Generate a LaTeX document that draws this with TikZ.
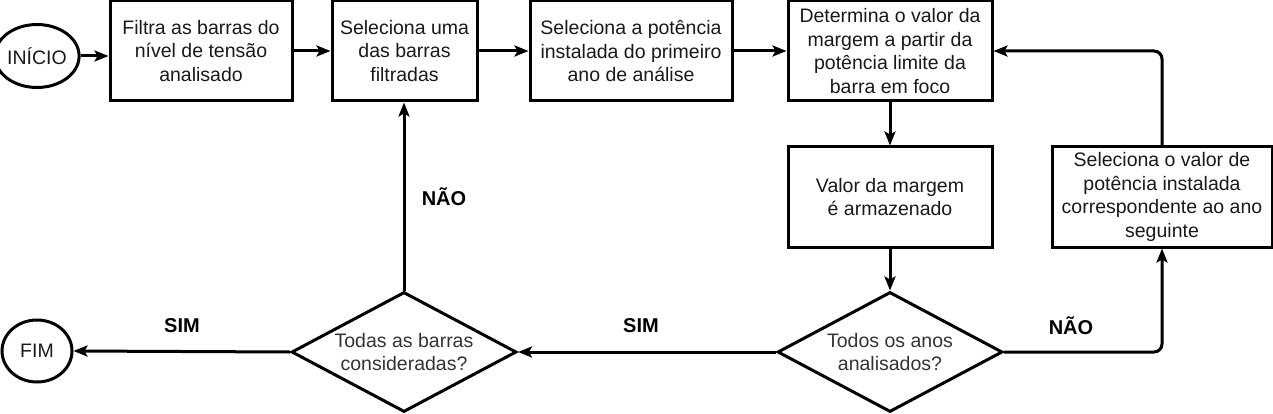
\documentclass[tikz,border=0pt]{standalone}
\usepackage{fontspec}
\setmainfont{Liberation Sans}
\usetikzlibrary{shapes.geometric,arrows.meta}
\begin{document}
\begin{tikzpicture}[x=1pt,y=-1pt,
  every node/.style={font=\fontsize{19.5}{23.5}\selectfont, text=black!90},
  stepbox/.style={draw=black, line width=3pt, rectangle, minimum height=100pt, inner sep=0pt, align=center},
  terminal/.style={draw=black, line width=3pt, ellipse, inner sep=0pt, minimum width=70pt, minimum height=63pt},
  decision/.style={draw=black, line width=3pt, diamond, shape aspect=1.875, inner sep=0pt, minimum width=225pt, minimum height=120pt, align=center, text=black!80},
  conn/.style={line width=3pt, -{Stealth[length=14pt,width=11pt,inset=3pt]}, rounded corners=8pt},
  lbl/.style={font=\fontsize{20}{24}\selectfont\bfseries, text=black}
]
\useasboundingbox (0,0) rectangle (1273,414);

\node[terminal] (inicio) at (37,56) {INÍCIO};
\node[stepbox, minimum width=182pt] (b1) at (201,51) {Filtra as barras do\\nível de tensão\\analisado};
\node[stepbox, minimum width=145pt] (b2) at (404.5,51) {Seleciona uma\\das barras\\filtradas};
\node[stepbox, minimum width=202pt] (b3) at (631,51) {Seleciona a potência\\instalada do primeiro\\ano de análise};
\node[stepbox, minimum width=204pt] (b4) at (890,51) {Determina o valor da\\margem a partir da\\potência limite da\\barra em foco};
\node[stepbox, minimum width=204pt] (b5) at (890,197) {Valor da margem\\é armazenado};
\node[stepbox, minimum width=220pt] (b6) at (1162,197) {Seleciona o valor de\\potência instalada\\correspondente ao ano\\seguinte};
\node[decision] (d1) at (890,352) {Todos os anos\\analisados?};
\node[decision] (d2) at (404,352) {Todas as barras\\consideradas?};
\node[terminal, minimum height=62pt] (fim) at (37,351) {FIM};

\coordinate (c1) at (1162,352);
\coordinate (c2) at (1162,51);

\draw[conn] (inicio.east) -- (b1.west |- inicio.east);
\draw[conn] (b1) -- (b2);
\draw[conn] (b2) -- (b3);
\draw[conn] (b3) -- (b4);
\draw[conn] (b4) -- (b5);
\draw[conn] (b5) -- (d1);
\draw[conn] (d1.west) -- (d2.east);
\draw[conn] (d1.east) -- (c1) -- (b6.south);
\draw[conn] (b6.north) -- (c2) -- (b4.east);
\draw[conn] (d2.north) -- (b2.south -| d2.north);
\draw[conn] (d2.west) -- (fim.east);

\node[lbl] (sim1) at (182,326) {SIM};
\node[lbl] (sim2) at (641,326) {SIM};
\node[lbl] (nao1) at (1071,326) {NÃO};
\node[lbl] (nao2) at (444,197) {NÃO};
\end{tikzpicture}
\end{document}
